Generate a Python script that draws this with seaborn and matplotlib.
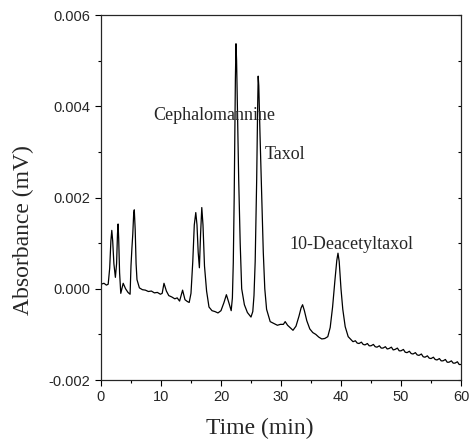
import pandas as pd
import matplotlib
matplotlib.use("Agg")
import matplotlib.pyplot as plt
import seaborn as sns

# chromatogram trace (time in min, absorbance in mV)
time_min = [
    0.0, 0.5, 0.9, 1.2, 1.45, 1.65, 1.8, 1.95, 2.15, 2.4, 2.6, 2.75, 2.85, 2.95, 3.1, 3.3,
    3.7, 4.1, 4.5, 4.85, 5.0, 5.15, 5.3, 5.45, 5.55, 5.7, 5.85, 6.0, 6.4, 6.9, 7.4, 7.9,
    8.4, 8.9, 9.4, 9.9, 10.2, 10.5, 10.9, 11.3, 11.8, 12.3, 12.7, 13.1, 13.6, 14.0, 14.4,
    14.7, 15.0, 15.3, 15.55, 15.8, 16.0, 16.2, 16.4, 16.6, 16.8, 17.0, 17.25, 17.6, 18.0,
    18.5, 19.0, 19.5, 20.0, 20.5, 20.9, 21.3, 21.7, 21.9, 22.05, 22.2, 22.3, 22.4, 22.5,
    22.6, 22.75, 22.95, 23.2, 23.45, 23.9, 24.4, 25.0, 25.3, 25.5, 25.7, 25.95, 26.1, 26.2,
    26.3, 26.5, 26.8, 27.05, 27.3, 27.6, 28.2, 28.8, 29.4, 29.9, 30.4, 30.7, 31.1, 31.6,
    32.0, 32.5, 33.0, 33.35, 33.6, 33.9, 34.3, 34.8, 35.3, 35.8, 36.3, 36.8, 37.3, 37.8,
    38.2, 38.6, 39.0, 39.3, 39.5, 39.7, 40.0, 40.3, 40.7, 41.2, 41.7,
    42.0, 42.4, 42.7, 43.0, 43.4, 43.7, 44.0, 44.4, 44.7, 45.0, 45.4, 45.7,
    46.0, 46.4, 46.7, 47.0, 47.4, 47.7, 48.0, 48.4, 48.7, 49.0, 49.4, 49.7,
    50.0, 50.4, 50.7, 51.0, 51.4, 51.7, 52.0, 52.4, 52.7, 53.0, 53.4, 53.7,
    54.0, 54.4, 54.7, 55.0, 55.4, 55.7, 56.0, 56.4, 56.7, 57.0, 57.4, 57.7,
    58.0, 58.4, 58.7, 59.0, 59.4, 59.7, 60.0,
]
absorbance = [
    0.10, 0.12, 0.08, 0.10, 0.45, 1.05, 1.28, 1.05, 0.55, 0.25, 0.55, 1.20, 1.42, 1.10, 0.35, -0.10,
    0.12, 0.00, -0.08, -0.12, 0.50, 0.88, 1.20, 1.65, 1.73, 1.30, 0.55, 0.20, 0.02, -0.02, -0.03, -0.06,
    -0.05, -0.09, -0.08, -0.12, -0.10, 0.12, -0.05, -0.15, -0.18, -0.22, -0.20, -0.27, -0.03, -0.24, -0.28,
    -0.30, -0.10, 0.60, 1.40, 1.67, 1.40, 0.80, 0.46, 1.20, 1.78, 1.40, 0.50, -0.05, -0.40,
    -0.48, -0.50, -0.53, -0.48, -0.30, -0.13, -0.30, -0.48, -0.20, 0.57, 2.00, 3.30, 4.60, 5.37,
    5.00, 3.90, 2.40, 1.00, 0.00, -0.35, -0.52, -0.62, -0.50, -0.15, 0.60, 2.40, 3.90, 4.66,
    4.45, 3.40, 2.00, 0.80, 0.00, -0.45, -0.72, -0.76, -0.80, -0.78, -0.78, -0.72, -0.80, -0.86,
    -0.91, -0.82, -0.60, -0.42, -0.35, -0.48, -0.70, -0.88, -0.96, -1.00, -1.06, -1.10, -1.09, -1.05,
    -0.85, -0.40, 0.20, 0.62, 0.78, 0.60, 0.00, -0.45, -0.83, -1.05, -1.12,
    -1.16, -1.14, -1.19, -1.20, -1.17, -1.22, -1.23, -1.20, -1.25, -1.25, -1.22, -1.27,
    -1.28, -1.25, -1.30, -1.30, -1.27, -1.32, -1.31, -1.28, -1.34, -1.33, -1.30, -1.36,
    -1.36, -1.33, -1.39, -1.40, -1.37, -1.42, -1.43, -1.40, -1.45, -1.46, -1.43, -1.49,
    -1.50, -1.47, -1.52, -1.53, -1.50, -1.55, -1.56, -1.53, -1.58, -1.58, -1.55, -1.61,
    -1.61, -1.58, -1.63, -1.63, -1.60, -1.66, -1.66,
]
absorbance = [v / 1000 for v in absorbance]

peak_names = ["Cephalomannine", "Taxol", "10-Deacetyltaxol"]
label_x = [8.7, 27.3, 31.4]
label_y = [0.0038, 0.00294, 0.00096]

x_ticks = [0, 10, 20, 30, 40, 50, 60]
y_ticks = [-0.002, 0.000, 0.002, 0.004, 0.006]
y_tick_labels = ["-0.002", "0.000", "0.002", "0.004", "0.006"]

df = pd.DataFrame({"Time": time_min, "Absorbance": absorbance})

sns.set_style("ticks")
serif = ["Liberation Serif", "DejaVu Serif"]
sans = ["Liberation Sans", "DejaVu Sans"]

fig = plt.figure(figsize=(4.75, 4.44), dpi=100)
ax = fig.add_axes([0.2126, 0.1441, 0.7579, 0.8221])

sns.lineplot(data=df, x="Time", y="Absorbance", color="black", linewidth=0.9, ax=ax)

ax.set_xlim(0, 60)
ax.set_ylim(-0.002, 0.006)
ax.set_xticks(x_ticks)
ax.set_xticklabels([str(t) for t in x_ticks], family=sans, fontsize=10.5)
ax.set_xticks(range(5, 60, 10), minor=True)
ax.set_yticks(y_ticks)
ax.set_yticklabels(y_tick_labels, family=sans, fontsize=10.5)
ax.set_yticks([-0.001, 0.001, 0.003, 0.005], minor=True)
ax.tick_params(which="major", direction="out", length=4.5, width=0.8, color="black", pad=3)
ax.tick_params(which="minor", direction="out", length=2.5, width=0.8, color="black")
for s in ax.spines.values():
    s.set_linewidth(0.8)
    s.set_color("black")

# inward ticks on the right edge
ax2 = ax.twinx()
ax2.set_ylim(-0.002, 0.006)
ax2.set_yticks(y_ticks)
ax2.set_yticks([-0.001, 0.001, 0.003, 0.005], minor=True)
ax2.set_yticklabels([])
ax2.tick_params(which="both", direction="in", length=2.5, width=0.8, color="black")
ax2.spines["right"].set_linewidth(0.8)

ax.set_xlabel("Time (min)", family=serif, fontsize=17)
ax.set_ylabel("Absorbance (mV)", family=serif, fontsize=17)
ax.xaxis.set_label_coords(0.44, -0.105)
ax.yaxis.set_label_coords(-0.185, 0.41)

for name, lx, ly in zip(peak_names, label_x, label_y):
    ax.text(lx, ly, name, family=serif, fontsize=13, va="center", ha="left")

plt.savefig("out.png", dpi=100)
